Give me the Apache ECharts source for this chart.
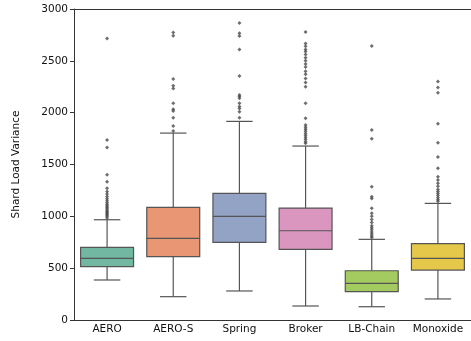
<!DOCTYPE html>
<html>
<head>
<meta charset="utf-8">
<script src="https://cdn.jsdelivr.net/npm/echarts@6/dist/echarts.min.js"></script>
<style>
  html, body { margin: 0; padding: 0; background: #fff; }
  #chart { width: 471px; height: 341px; }
</style>
</head>
<body>
<div id="chart"></div>
<script>
var categories = ["AERO", "AERO-S", "Spring", "Broker", "LB-Chain", "Monoxide"];
var lowWhisker = [386, 225, 280, 135, 128, 203];
var q1 = [514, 611, 749, 682, 273, 482];
var median = [595, 788, 1000, 861, 354, 595];
var q3 = [701, 1087, 1222, 1080, 475, 736];
var highWhisker = [967, 1803, 1916, 1678, 778, 1125];
var boxColors = ["#71b7a1", "#e99675", "#93a3c6", "#db96c0", "#a4cb5f", "#e5c849"];

var outAero = [985, 1000, 1012, 1022, 1035, 1045, 1058, 1072, 1088, 1100, 1115, 1130, 1150, 1170, 1192, 1215, 1240, 1270, 1334, 1401, 1665, 1736, 2716];
var outAeroS = [1822, 1871, 1951, 2015, 2032, 2090, 2234, 2260, 2324, 2742, 2774];
var outSpring = [1951, 2009, 2040, 2060, 2090, 2138, 2155, 2170, 2353, 2610, 2739, 2765, 2864];
var outBroker = [1705, 1720, 1740, 1760, 1780, 1800, 1820, 1840, 1860, 1880, 1945, 2090, 2250, 2290, 2330, 2370, 2400, 2440, 2470, 2500, 2530, 2560, 2590, 2610, 2640, 2668, 2777];
var outLBChain = [795, 810, 830, 850, 870, 890, 910, 940, 970, 1000, 1029, 1077, 1173, 1189, 1286, 1749, 1832, 2642];
var outMonoxide = [1145, 1160, 1180, 1200, 1220, 1240, 1260, 1290, 1320, 1350, 1382, 1463, 1572, 1710, 1893, 2192, 2243, 2301];

var outliers = [outAero, outAeroS, outSpring, outBroker, outLBChain, outMonoxide];
var boxData = [];
var outlierData = [];
for (var i = 0; i < categories.length; i++) {
  boxData.push([i, lowWhisker[i], q1[i], median[i], q3[i], highWhisker[i]]);
  for (var k = 0; k < outliers[i].length; k++) {
    outlierData.push([i, outliers[i][k]]);
  }
}

var lineCol = "#555555";

// box + half-width whisker caps, like seaborn draws them
function renderBox(params, api) {
  var i = api.value(0);
  var bw = api.size([1, 0])[0] * 0.8;
  var x = api.coord([i, 0])[0];
  var yLow = api.coord([i, api.value(1)])[1];
  var yQ1 = api.coord([i, api.value(2)])[1];
  var yMed = api.coord([i, api.value(3)])[1];
  var yQ3 = api.coord([i, api.value(4)])[1];
  var yHigh = api.coord([i, api.value(5)])[1];
  var lw = { stroke: lineCol, lineWidth: 1.2 };
  return {
    type: "group",
    children: [
      { type: "line", shape: { x1: x, y1: yQ1, x2: x, y2: yLow }, style: lw },
      { type: "line", shape: { x1: x, y1: yQ3, x2: x, y2: yHigh }, style: lw },
      { type: "line", shape: { x1: x - bw / 4, y1: yLow, x2: x + bw / 4, y2: yLow }, style: lw },
      { type: "line", shape: { x1: x - bw / 4, y1: yHigh, x2: x + bw / 4, y2: yHigh }, style: lw },
      { type: "rect", shape: { x: x - bw / 2, y: yQ3, width: bw, height: yQ1 - yQ3 },
        style: { fill: boxColors[i], stroke: lineCol, lineWidth: 1.2 } },
      { type: "line", shape: { x1: x - bw / 2, y1: yMed, x2: x + bw / 2, y2: yMed }, style: lw }
    ]
  };
}

var chart = echarts.init(document.getElementById("chart"));
var option = {
  animation: false,
  textStyle: { fontFamily: "DejaVu Sans" },
  grid: { left: 74, right: 0, top: 9, bottom: 21 },
  xAxis: [
    {
      type: "category",
      data: categories,
      axisLine: { lineStyle: { color: "#333" } },
      axisTick: { alignWithLabel: true, length: 4, lineStyle: { color: "#333" } },
      axisLabel: { color: "#111", fontSize: 10.5, margin: 4 },
      splitLine: { show: false }
    },
    {
      // top spine only
      type: "category",
      data: categories,
      position: "top",
      axisLine: { lineStyle: { color: "#333" } },
      axisTick: { show: false },
      axisLabel: { show: false },
      splitLine: { show: false }
    }
  ],
  yAxis: {
    type: "value",
    min: 0, max: 3000, interval: 500,
    name: "Shard Load Variance",
    nameLocation: "middle",
    nameGap: 52,
    nameTextStyle: { color: "#111", fontSize: 10.5 },
    axisLine: { show: true, lineStyle: { color: "#333" } },
    axisTick: { show: true, length: 4, lineStyle: { color: "#333" } },
    axisLabel: { color: "#111", fontSize: 10.5, margin: 6, formatter: function (v) { return String(v); } },
    splitLine: { show: false }
  },
  series: [
    {
      type: "custom",
      renderItem: renderBox,
      encode: { x: 0, y: [1, 2, 3, 4, 5] },
      data: boxData,
      z: 2
    },
    {
      type: "scatter",
      symbol: "diamond",
      symbolSize: 4,
      itemStyle: { color: "#4a4a4a" },
      data: outlierData,
      z: 3
    }
  ]
};
chart.setOption(option);
</script>
</body>
</html>
